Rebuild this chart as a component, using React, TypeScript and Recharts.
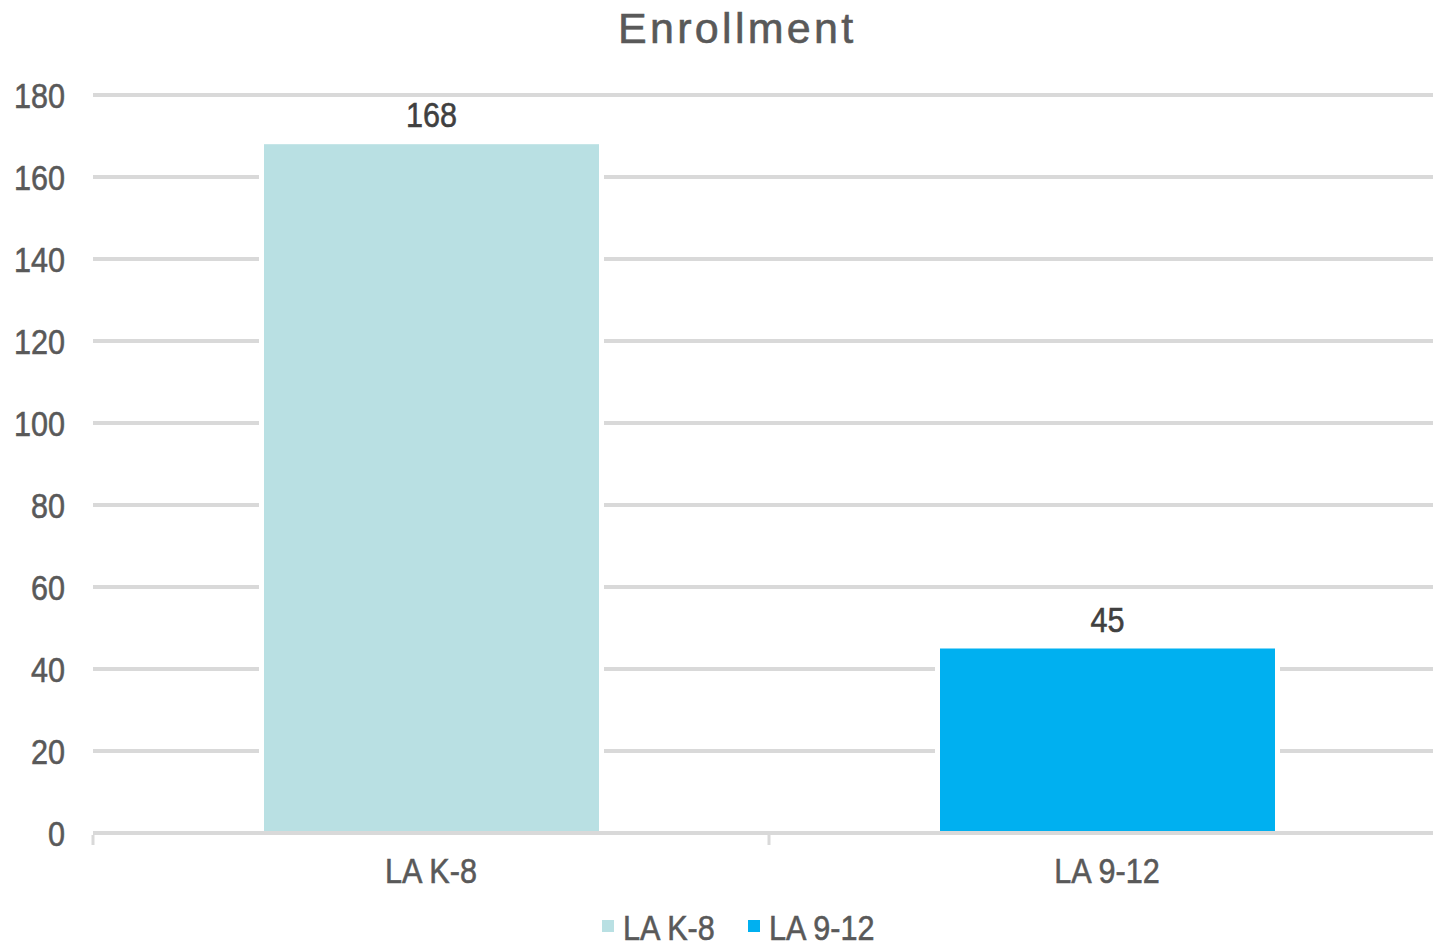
import React from 'react';
import { BarChart, Bar, XAxis, YAxis, CartesianGrid, Cell, LabelList, Legend } from 'recharts';

const categories = ['LA K-8', 'LA 9-12'];
const values = [168, 45];
const colors = ['#b9e0e3', '#00b0f0'];
const yTicks = [0, 20, 40, 60, 80, 100, 120, 140, 160, 180];
const title = 'Enrollment';

const FONT = '"Liberation Sans", Arial, sans-serif';
const GRID = '#d9d9d9';
const TEXT = '#595959';
const LABEL = '#404040';
const FS = 36;
const SX = 0.85;
const X_TICK_MARGIN = 24;

const data = categories.map((name, i) => ({ name, value: values[i] }));

const GapBar = (props: any) => {
  const { x, y, width, height, fill } = props;
  if (!height || height <= 0) return null;
  return (
    <g>
      <rect x={x - 5} y={y} width={width + 10} height={height} fill="#ffffff" />
      <rect x={x} y={y} width={width} height={height} fill={fill} />
    </g>
  );
};

const SText = ({ x, y, anchor, color, children, dy }: any) => (
  <text
    transform={`translate(${x},${y}) scale(${SX},1)`}
    textAnchor={anchor}
    dy={dy}
    fill={color}
    stroke={color}
    strokeWidth={0.6}
    fontSize={FS}
    fontFamily={FONT}
  >
    {children}
  </text>
);

const YTick = (props: any) => {
  const { x, y, payload } = props;
  return (
    <SText x={x} y={y} anchor="end" dy="0.355em" color={TEXT}>
      {payload.value}
    </SText>
  );
};

const XTick = (props: any) => {
  const { x, y, payload, index } = props;
  const axisWidth = typeof props.width === 'number' && props.width > 0 ? props.width : 1352;
  const band = axisWidth / categories.length;
  const axisY = y - X_TICK_MARGIN;
  const left = payload.coordinate - band / 2;
  const right = payload.coordinate + band / 2;
  return (
    <g>
      <line x1={left} x2={left} y1={axisY + 2} y2={axisY + 12} stroke={GRID} strokeWidth={3} />
      {index === categories.length - 1 && (
        <line x1={right} x2={right} y1={axisY + 2} y2={axisY + 12} stroke={GRID} strokeWidth={3} />
      )}
      <SText x={x} y={y} anchor="middle" dy="0.71em" color={TEXT}>
        {payload.value}
      </SText>
    </g>
  );
};

const ValueLabel = (props: any) => {
  const { x, y, width, value } = props;
  if (value === null || value === undefined) return null;
  return (
    <SText x={x + width / 2} y={y - 17} anchor="middle" color={LABEL}>
      {value}
    </SText>
  );
};

const legendOffsets = [602, 748];

const LegendContent = () => (
  <svg width={1460} height={50} style={{ display: 'block', overflow: 'visible' }}>
    {categories.map((c, i) => (
      <g key={c}>
        <rect x={legendOffsets[i]} y={23} width={12} height={12} fill={colors[i]} />
        <SText x={legendOffsets[i] + 21} y={43} anchor="start" color={TEXT}>
          {c}
        </SText>
      </g>
    ))}
  </svg>
);

export default function App() {
  return (
    <div
      style={{
        position: 'absolute',
        left: 0,
        top: 0,
        width: 1433,
        height: 947,
        overflow: 'hidden',
        background: '#ffffff',
      }}
    >
      <BarChart
        width={1460}
        height={947}
        data={data}
        margin={{ top: 95, right: 15, left: 33, bottom: 0 }}
      >
        <CartesianGrid xAxisId="cat" vertical={false} stroke={GRID} strokeWidth={4} />
        <YAxis
          domain={[0, 180]}
          ticks={yTicks}
          axisLine={false}
          tickLine={false}
          tickSize={0}
          tickMargin={28}
          width={60}
          tick={<YTick />}
        />
        <Bar
          xAxisId="cat"
          dataKey="value"
          barSize={335}
          shape={GapBar}
          isAnimationActive={false}
        >
          {data.map((d, i) => (
            <Cell key={d.name} fill={colors[i]} />
          ))}
          <LabelList dataKey="value" content={<ValueLabel />} />
        </Bar>
        <XAxis
          xAxisId="cat"
          dataKey="name"
          height={64}
          axisLine={{ stroke: GRID, strokeWidth: 4 }}
          tickLine={false}
          tickSize={0}
          tickMargin={X_TICK_MARGIN}
          interval={0}
          tick={<XTick />}
        />
        <Legend
          verticalAlign="bottom"
          content={LegendContent}
          wrapperStyle={{ left: 0, bottom: 0, width: 1460, height: 50 }}
        />
      </BarChart>
      <div
        style={{
          position: 'absolute',
          left: 618,
          top: 7,
          fontFamily: FONT,
          fontSize: 43,
          lineHeight: '43px',
          letterSpacing: 3.3,
          color: TEXT,
          WebkitTextStroke: '0.6px #595959',
          whiteSpace: 'nowrap',
        }}
      >
        {title}
      </div>
    </div>
  );
}
